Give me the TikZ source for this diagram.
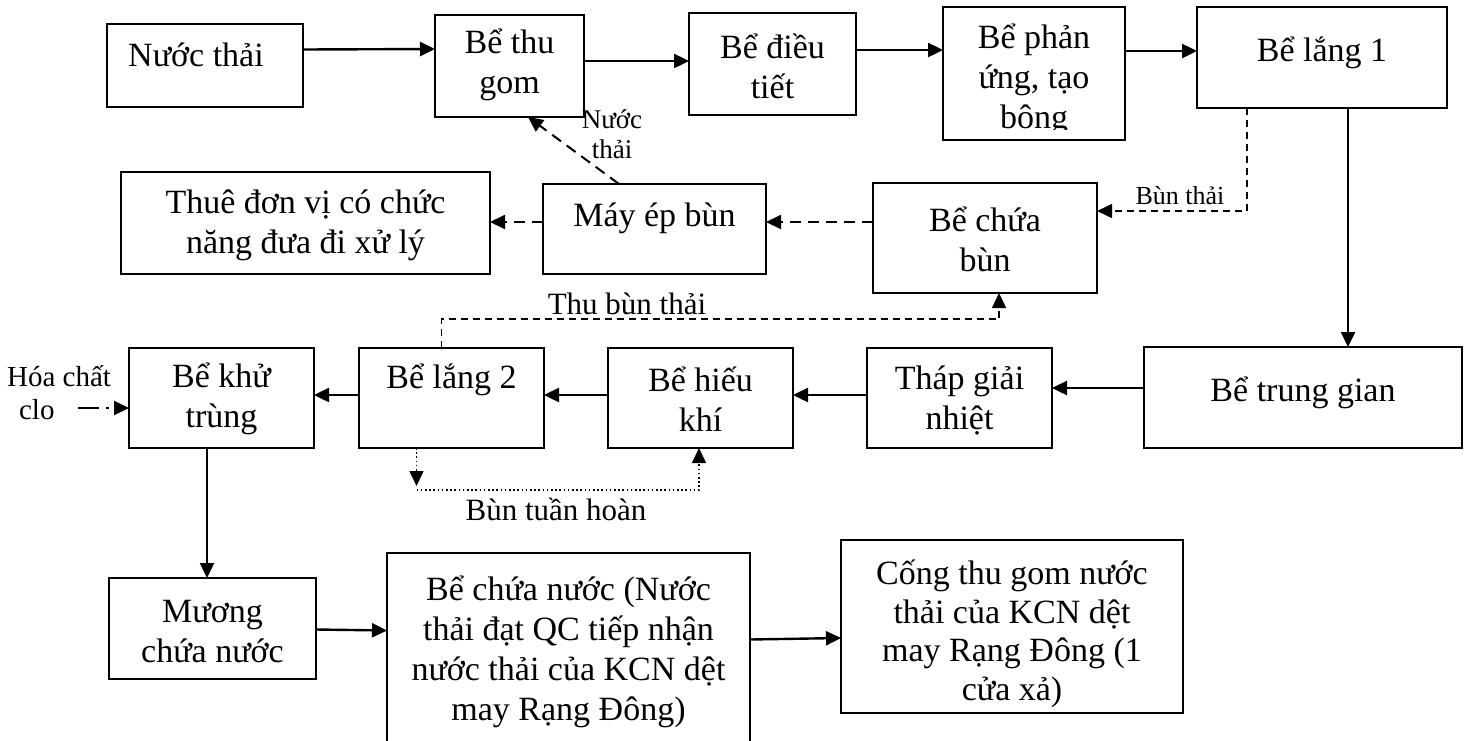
\documentclass[tikz,border=0pt]{standalone}
\usepackage{fontspec}
\setmainfont{Liberation Serif}
\usetikzlibrary{arrows.meta,fit}

\begin{document}
\begin{tikzpicture}[x=1pt,y=-1pt,
  box/.style={draw, line width=1.8pt, inner sep=0pt, outer sep=0pt},
  txt/.style={align=center, font=\fontsize{34}{40}\selectfont, inner sep=0pt},
  lbl/.style={align=center, inner sep=0pt},
  tip/.style={-{Triangle[length=15pt,width=14pt]}},
  flow/.style={tip, line width=2.4pt},
  sludge/.style={tip, line width=2pt, dash pattern=on 11pt off 7pt},
  thin dash/.style={tip, line width=1.5pt, dash pattern=on 7pt off 5pt},
  dotline/.style={line width=1.6pt, dash pattern=on 1.6pt off 2.6pt},
  chem/.style={tip, line width=2pt, dash pattern=on 21pt off 7pt on 2.5pt off 30pt}
]
\useasboundingbox (0,0) rectangle (1464,740);

% ---- boxes ----
\node[box, fit={(107,24) (303,107)}] (nuocthai) {};
\node[box, fit={(435,15) (584,117)}] (thugom) {};
\node[box, fit={(689,13) (856,115)}] (dieutiet) {};
\node[box, fit={(943,7) (1125,140)}] (phanung) {};
\node[box, fit={(1197,7) (1447,108)}] (lang1) {};
\node[box, fit={(121,172) (490,274)}] (thue) {};
\node[box, fit={(543,184) (766,274)}] (mayep) {};
\node[box, fit={(873,183) (1097,293)}] (chuabun) {};
\node[box, fit={(1144,347) (1462,448)}] (trunggian) {};
\node[box, fit={(867,348) (1052,448)}] (thap) {};
\node[box, fit={(608,348) (793,448)}] (hieukhi) {};
\node[box, fit={(359,348) (544,448)}] (lang2) {};
\node[box, fit={(129,348) (314,448)}] (khutrung) {};
\node[box, fit={(109,578) (316,679)}] (muong) {};
\node[box, fit={(387,553) (750,748)}] (chuanuoc) {};
\node[box, fit={(841,540) (1183,713)}] (cong) {};

% ---- box texts ----
\node[txt] (t-nuocthai) at (196,55) {Nước thải};
\node[txt] (t-thugom) at (509.5,65) {Bể thu\\gom};
\node[txt] (t-dieutiet) at (772.5,66) {Bể điều\\tiết};
\begin{scope}
  \clip (943,7) rectangle (1125,129);
  \node[txt] (t-phanung) at (1034,80) {Bể phản\\ứng, tạo\\bông};
\end{scope}
\node[txt] (t-lang1) at (1322,53) {Bể lắng 1};
\node[txt] (t-thue) at (305.5,225) {Thuê đơn vị có chức\\năng đưa đi xử lý};
\node[txt] (t-mayep) at (654.5,218) {Máy ép bùn};
\node[txt] (t-chuabun) at (985,239) {Bể chứa\\bùn};
\node[txt] (t-trunggian) at (1303,393) {Bể trung gian};
\node[txt] (t-thap) at (959.5,400) {Tháp giải\\nhiệt};
\node[txt] (t-hieukhi) at (700.5,399) {Bể hiếu\\khí};
\node[txt] (t-lang2) at (451.5,380) {Bể lắng 2};
\node[txt] (t-khutrung) at (221.5,399) {Bể khử\\trùng};
\node[txt] (t-muong) at (212.5,632) {Mương\\chứa nước};
\node[txt] (t-chuanuoc) at (568.5,652) {Bể chứa nước (Nước\\thải đạt QC tiếp nhận\\nước thải của KCN dệt\\may Rạng Đông)};
\node[txt, font=\fontsize{34}{38.5}\selectfont] (t-cong) at (1012,634) {Cống thu gom nước\\thải của KCN dệt\\may Rạng Đông (1\\cửa xả)};

% ---- labels ----
\node[lbl, font=\fontsize{27}{30}\selectfont] (l-nuoc) at (612,134) {Nước\\thải};
\node[lbl, font=\fontsize{26}{30}\selectfont] (l-bunthai) at (1180,196) {Bùn thải};
\node[lbl, font=\fontsize{31}{34}\selectfont] (l-thubun) at (627,304) {Thu bùn thải};
\node[lbl, font=\fontsize{31}{34}\selectfont] (l-tuanhoan) at (556,509) {Bùn tuần hoàn};
\node[lbl, align=left, font=\fontsize{29}{33}\selectfont] (l-hoachat) at (59,393) {Hóa chất\\\hspace*{12pt}clo};
\coordinate (clo) at (78,408);

% ---- main flow ----
\draw[flow] ([yshift=16pt]nuocthai.east) -- ([yshift=17pt]thugom.west);
\draw[flow] ([yshift=5pt]thugom.east) -- ([yshift=3pt]dieutiet.west);
\draw[flow] ([yshift=14pt]dieutiet.east) -- ([yshift=23.5pt]phanung.west);
\draw[flow] ([yshift=22.5pt]phanung.east) -- ([yshift=6.5pt]lang1.west);
\draw[flow] ([xshift=26pt]lang1.south) -- ([xshift=45pt]trunggian.north);
\draw[flow] ([yshift=9.5pt]trunggian.west) -- ([yshift=10pt]thap.east);
\draw[flow] ([yshift=3pt]thap.west) -- ([yshift=3pt]hieukhi.east);
\draw[flow] ([yshift=3pt]hieukhi.west) -- ([yshift=3pt]lang2.east);
\draw[flow] ([yshift=3pt]lang2.west) -- ([yshift=3pt]khutrung.east);
\draw[flow] ([xshift=-14.5pt]khutrung.south) -- ([xshift=-5.5pt]muong.north);
\draw[flow] ([yshift=-1pt]muong.east) -- ([yshift=20pt]chuanuoc.west);
\draw[flow] ([yshift=11pt]chuanuoc.east) -- ([yshift=-11.5pt]cong.west);

% ---- chemical dosing ----
\draw[chem] (clo) -- ([yshift=-10pt]khutrung.west);

% ---- sludge lines ----
\draw[thin dash] ([xshift=-75pt]lang1.south) |- ([yshift=27pt]chuabun.east);
\draw[sludge] ([yshift=16pt]chuabun.west) -- ([yshift=7pt]mayep.east);
\draw[sludge] ([yshift=7pt]mayep.west) -- ([yshift=1pt]thue.east);
\draw[sludge] ([xshift=-35.5pt]mayep.north) -- ([xshift=18.5pt]thugom.south);
\draw[thin dash] ([xshift=-10pt]lang2.north) -- ++(0,-29) -| ([xshift=14pt]chuabun.south);

% ---- return sludge ----
\draw[dotline, tip] ([xshift=-35pt]lang2.south) -- ++(0,38);
\draw[dotline, tip] ([xshift=-35pt]lang2.south) ++(0,42) -| ([xshift=-1.5pt]hieukhi.south);
\end{tikzpicture}
\end{document}
